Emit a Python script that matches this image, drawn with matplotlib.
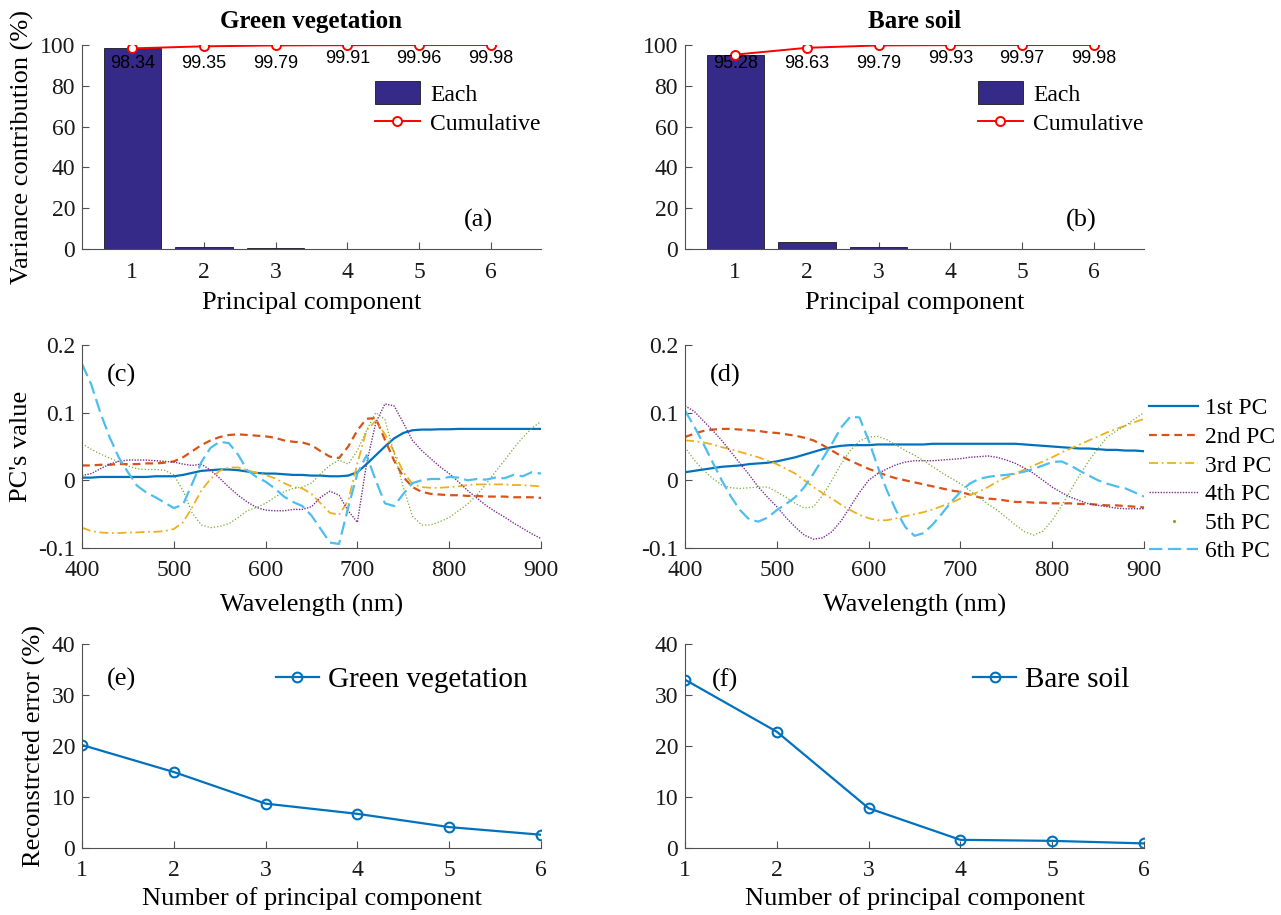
import numpy as np
import matplotlib
matplotlib.use("Agg")
import matplotlib.pyplot as plt
from matplotlib.lines import Line2D

plt.rcParams['font.family'] = ['Liberation Serif', 'DejaVu Serif']

# ---------------- data ----------------
components = [1, 2, 3, 4, 5, 6]

veg_each = [98.34, 1.01, 0.44, 0.12, 0.05, 0.02]
veg_cumulative = [98.34, 99.35, 99.79, 99.91, 99.96, 99.98]
soil_each = [95.28, 3.35, 1.16, 0.14, 0.04, 0.01]
soil_cumulative = [95.28, 98.63, 99.79, 99.93, 99.97, 99.98]

wavelength = list(range(400, 901, 10))

veg_pc1 = [0.004, 0.004, 0.005, 0.005, 0.005, 0.005, 0.005, 0.005, 0.006, 0.006,
           0.006, 0.008, 0.011, 0.014, 0.015, 0.016, 0.016, 0.015, 0.013, 0.011,
           0.010, 0.010, 0.009, 0.008, 0.008, 0.007, 0.007, 0.006, 0.006, 0.007,
           0.012, 0.024, 0.037, 0.050, 0.062, 0.070, 0.074, 0.075, 0.075, 0.0755,
           0.0755, 0.076, 0.076, 0.076, 0.076, 0.076, 0.076, 0.076, 0.076, 0.076, 0.076]
veg_pc2 = [0.022, 0.022, 0.023, 0.023, 0.024, 0.024, 0.024, 0.025, 0.025, 0.026,
           0.028, 0.034, 0.043, 0.052, 0.059, 0.064, 0.067, 0.068, 0.067, 0.066,
           0.065, 0.063, 0.059, 0.057, 0.056, 0.052, 0.043, 0.035, 0.033, 0.050,
           0.074, 0.091, 0.092, 0.060, 0.029, 0.005, -0.010, -0.017, -0.020, -0.021,
           -0.022, -0.022, -0.023, -0.023, -0.024, -0.024, -0.024, -0.025, -0.025, -0.025, -0.026]
veg_pc3 = [-0.070, -0.075, -0.077, -0.078, -0.078, -0.077, -0.077, -0.076, -0.076, -0.075,
           -0.072, -0.062, -0.040, -0.015, 0.002, 0.014, 0.019, 0.019, 0.015, 0.011,
           0.008, 0.003, -0.004, -0.010, -0.012, -0.020, -0.034, -0.048, -0.051, -0.030,
           0.025, 0.074, 0.088, 0.068, 0.042, 0.012, -0.005, -0.010, -0.011, -0.011,
           -0.010, -0.009, -0.007, -0.006, -0.006, -0.006, -0.006, -0.007, -0.007, -0.008, -0.009]
veg_pc4 = [0.007, 0.010, 0.017, 0.024, 0.028, 0.030, 0.030, 0.030, 0.029, 0.028,
           0.027, 0.024, 0.022, 0.024, 0.015, 0.003, -0.010, -0.022, -0.032, -0.040,
           -0.044, -0.045, -0.045, -0.043, -0.043, -0.039, -0.025, -0.016, -0.022, -0.045,
           -0.062, 0.025, 0.085, 0.113, 0.110, 0.085, 0.059, 0.044, 0.032, 0.020,
           0.010, -0.002, -0.015, -0.026, -0.037, -0.046, -0.054, -0.063, -0.071, -0.079, -0.086]
veg_pc5 = [0.054, 0.046, 0.039, 0.033, 0.027, 0.021, 0.017, 0.016, 0.016, 0.015,
           0.008, -0.015, -0.048, -0.066, -0.070, -0.068, -0.064, -0.055, -0.045, -0.040,
           -0.034, -0.025, -0.017, -0.012, -0.010, -0.004, 0.010, 0.022, 0.030, 0.024,
           0.044, 0.074, 0.100, 0.090, 0.040, -0.010, -0.053, -0.066, -0.066, -0.061,
           -0.055, -0.045, -0.035, -0.022, -0.006, 0.012, 0.029, 0.047, 0.063, 0.077, 0.087]
veg_pc6 = [0.172, 0.142, 0.100, 0.064, 0.034, 0.012, -0.008, -0.018, -0.025, -0.033,
           -0.041, -0.036, -0.005, 0.027, 0.048, 0.057, 0.055, 0.038, 0.015, 0.005,
           -0.002, -0.012, -0.024, -0.032, -0.038, -0.052, -0.072, -0.092, -0.094, -0.040,
           0.010, 0.037, 0.000, -0.034, -0.038, -0.020, -0.004, 0.000, 0.002, 0.002,
           0.005, 0.004, 0.000, 0.002, 0.001, 0.004, 0.003, 0.008, 0.006, 0.012, 0.010]

soil_pc1 = [0.012, 0.014, 0.016, 0.018, 0.020, 0.021, 0.022, 0.024, 0.025, 0.026,
            0.028, 0.031, 0.034, 0.038, 0.042, 0.046, 0.049, 0.051, 0.052, 0.052,
            0.052, 0.053, 0.053, 0.053, 0.053, 0.053, 0.053, 0.054, 0.054, 0.054,
            0.054, 0.054, 0.054, 0.054, 0.054, 0.054, 0.054, 0.053, 0.052, 0.051,
            0.050, 0.049, 0.048, 0.047, 0.047, 0.046, 0.045, 0.045, 0.044, 0.044, 0.043]
soil_pc2 = [0.064, 0.069, 0.073, 0.075, 0.076, 0.076, 0.075, 0.074, 0.073, 0.071,
            0.070, 0.068, 0.066, 0.063, 0.059, 0.052, 0.044, 0.036, 0.029, 0.023,
            0.017, 0.012, 0.007, 0.003, 0.000, -0.003, -0.006, -0.009, -0.012, -0.015,
            -0.017, -0.021, -0.025, -0.027, -0.028, -0.030, -0.032, -0.032, -0.033, -0.033,
            -0.034, -0.034, -0.034, -0.035, -0.035, -0.036, -0.037, -0.037, -0.038, -0.039, -0.040]
soil_pc3 = [0.059, 0.058, 0.056, 0.053, 0.049, 0.046, 0.042, 0.038, 0.034, 0.029,
            0.024, 0.017, 0.010, 0.000, -0.010, -0.019, -0.027, -0.036, -0.044, -0.051,
            -0.056, -0.059, -0.059, -0.056, -0.053, -0.050, -0.047, -0.043, -0.038, -0.033,
            -0.027, -0.022, -0.017, -0.010, -0.002, 0.004, 0.010, 0.016, 0.022, 0.028,
            0.034, 0.041, 0.047, 0.053, 0.059, 0.065, 0.071, 0.076, 0.081, 0.086, 0.091]
soil_pc4 = [0.110, 0.102, 0.088, 0.074, 0.059, 0.042, 0.025, 0.008, -0.010, -0.025,
            -0.039, -0.055, -0.069, -0.081, -0.087, -0.085, -0.076, -0.060, -0.039, -0.018,
            0.000, 0.010, 0.017, 0.023, 0.027, 0.029, 0.029, 0.029, 0.030, 0.031,
            0.032, 0.034, 0.035, 0.036, 0.034, 0.030, 0.025, 0.018, 0.010, 0.000,
            -0.010, -0.018, -0.025, -0.030, -0.035, -0.037, -0.039, -0.041, -0.042, -0.042, -0.042]
soil_pc5 = [0.049, 0.030, 0.015, 0.003, -0.007, -0.011, -0.012, -0.011, -0.010, -0.010,
            -0.017, -0.025, -0.034, -0.041, -0.039, -0.022, 0.000, 0.024, 0.044, 0.058,
            0.064, 0.065, 0.060, 0.052, 0.044, 0.037, 0.029, 0.020, 0.011, 0.003,
            -0.005, -0.015, -0.025, -0.035, -0.044, -0.055, -0.066, -0.076, -0.081, -0.075,
            -0.059, -0.038, -0.015, 0.008, 0.029, 0.047, 0.064, 0.073, 0.081, 0.091, 0.100]
soil_pc6 = [0.103, 0.080, 0.054, 0.027, 0.000, -0.024, -0.044, -0.058, -0.061, -0.055,
            -0.044, -0.035, -0.025, -0.010, 0.010, 0.032, 0.054, 0.078, 0.094, 0.093,
            0.059, 0.020, -0.015, -0.045, -0.069, -0.082, -0.078, -0.065, -0.049, -0.032,
            -0.017, -0.005, 0.002, 0.005, 0.007, 0.008, 0.010, 0.013, 0.017, 0.022,
            0.027, 0.028, 0.022, 0.014, 0.007, 0.000, -0.005, -0.009, -0.012, -0.018, -0.024]

pc_names = ['1st PC', '2nd PC', '3rd PC', '4th PC', '5th PC', '6th PC']

veg_error = [20.2, 14.9, 8.7, 6.7, 4.1, 2.6]
soil_error = [33.0, 22.8, 7.8, 1.6, 1.4, 0.9]

# ---------------- styles ----------------
BAR_COLOR = '#352A87'
AX_COLOR = '#505050'
pc_colors = ['#0072BD', '#D95319', '#EDB120', '#7E2F8E', '#77AC30', '#4DBEEE']
pc_styles = ['-', (0, (3.5, 2.2)), (0, (5, 2, 1, 2)), (0, (1, 1)), (0, (1, 1.6)), (0, (6, 2.5))]
pc_widths = [1.6, 1.6, 1.3, 1.0, 0.9, 1.6]

TICK_FS = 17
LABEL_FS = 19

fig = plt.figure(figsize=(12.81, 9.15), dpi=100)
W, H = 1281.0, 915.0


def add_axes(left, top, right, bottom):
    return fig.add_axes([left / W, 1 - bottom / H, (right - left) / W, (bottom - top) / H])


def style(ax):
    for s in ['top', 'right']:
        ax.spines[s].set_visible(False)
    for s in ['left', 'bottom']:
        ax.spines[s].set_color(AX_COLOR)
        ax.spines[s].set_linewidth(0.8)
    ax.tick_params(direction='in', length=5, width=0.8, color=AX_COLOR,
                   labelsize=TICK_FS, labelcolor='#1a1a1a')
    ax.tick_params(axis='x', pad=9)
    ax.tick_params(axis='y', pad=5)


ax_a = add_axes(82, 45, 541, 249)
ax_b = add_axes(685, 45, 1144, 249)
ax_c = add_axes(82, 345, 541, 548)
ax_d = add_axes(685, 345, 1144, 548)
ax_e = add_axes(82, 644, 541, 848)
ax_f = add_axes(685, 644, 1144, 848)

# ---------------- variance contribution ----------------
label_heights = [91.0, 91.0, 91.0, 93.2, 93.2, 93.2]
for ax, each, cum, title, tag in [(ax_a, veg_each, veg_cumulative, 'Green vegetation', '(a)'),
                                  (ax_b, soil_each, soil_cumulative, 'Bare soil', '(b)')]:
    style(ax)
    bars = ax.bar(components, each, width=0.8, color=BAR_COLOR, edgecolor='#1a1a1a',
                  linewidth=0.6, label='Each', zorder=2)
    line, = ax.plot(components, cum, '-o', color='#FF0000', lw=1.4, ms=6.5, mfc='white',
                    mew=1.4, label='Cumulative', zorder=3)
    for x, v, yy in zip(components, cum, label_heights):
        ax.text(x, yy, f'{v:.2f}', ha='center', va='center', fontsize=13,
                family=['Liberation Sans', 'DejaVu Sans'], zorder=4)
    ax.set_xlim(0.3, 6.7)
    ax.set_ylim(0, 100)
    ax.set_xticks(components)
    ax.set_yticks([0, 20, 40, 60, 80, 100])
    ax.set_xlabel('Principal component', fontsize=LABEL_FS, labelpad=7)
    ax.set_title(title, fontsize=18, fontweight='bold', pad=12)
    ax.text(0.863, 0.142, tag, transform=ax.transAxes, fontsize=LABEL_FS, ha='center', va='center')
    ax.legend(handles=[bars, line], loc='upper left', bbox_to_anchor=(0.612, 0.88),
              frameon=False, fontsize=17, handlelength=1.9, handleheight=1.1, borderpad=0,
              labelspacing=0.22, handletextpad=0.45)
ax_a.set_ylabel('Variance contribution (%)', fontsize=LABEL_FS, labelpad=4)

# ---------------- principal component loadings ----------------
veg_series = [veg_pc1, veg_pc2, veg_pc3, veg_pc4, veg_pc5, veg_pc6]
soil_series = [soil_pc1, soil_pc2, soil_pc3, soil_pc4, soil_pc5, soil_pc6]
for ax, series, tag in [(ax_c, veg_series, '(c)'), (ax_d, soil_series, '(d)')]:
    style(ax)
    for vals, c, ls, lw, name in zip(series, pc_colors, pc_styles, pc_widths, pc_names):
        ax.plot(wavelength, vals, color=c, linestyle=ls, lw=lw, label=name)
    ax.set_xlim(400, 900)
    ax.set_ylim(-0.1, 0.2)
    ax.set_xticks([400, 500, 600, 700, 800, 900])
    ax.set_yticks([-0.1, 0, 0.1, 0.2])
    ax.set_yticklabels(['-0.1', '0', '0.1', '0.2'])
    ax.set_xlabel('Wavelength (nm)', fontsize=LABEL_FS, labelpad=9)
    ax.text(0.087, 0.852, tag, transform=ax.transAxes, fontsize=LABEL_FS, ha='center', va='center')
ax_c.set_ylabel("PC's value", fontsize=LABEL_FS, labelpad=4)

handles = []
for c, ls, lw, name in zip(pc_colors, pc_styles, pc_widths, pc_names):
    if name == '5th PC':
        handles.append(Line2D([], [], color=c, ls='none', marker='.', ms=2.5, label=name))
    else:
        handles.append(Line2D([], [], color=c, ls=ls, lw=lw, label=name))
fig.legend(handles=handles, loc='upper left', bbox_to_anchor=(1137 / W, 1 - 386 / H),
           frameon=False, fontsize=17, handlelength=2.1, borderpad=0, labelspacing=0.3,
           handletextpad=0.3)

# ---------------- reconstruction error ----------------
for ax, err, name, tag, lx in [(ax_e, veg_error, 'Green vegetation', '(e)', 0.39),
                               (ax_f, soil_error, 'Bare soil', '(f)', 0.595)]:
    style(ax)
    ax.plot(components, err, '-o', color='#0072BD', lw=1.6, ms=7, mfc='none', mew=1.5, label=name)
    ax.set_xlim(1, 6)
    ax.set_ylim(0, 40)
    ax.set_xticks(components)
    ax.set_yticks([0, 10, 20, 30, 40])
    ax.set_xlabel('Number of principal component', fontsize=LABEL_FS, labelpad=4)
    ax.text(0.087, 0.824, tag, transform=ax.transAxes, fontsize=LABEL_FS, ha='center', va='center')
    ax.legend(loc='upper left', bbox_to_anchor=(lx, 0.96), frameon=False, fontsize=21,
              handlelength=1.5, borderpad=0, handletextpad=0.3)
ax_e.set_ylabel('Reconstrcted error (%)', fontsize=LABEL_FS, labelpad=4)

fig.savefig('out.png', dpi=100)
